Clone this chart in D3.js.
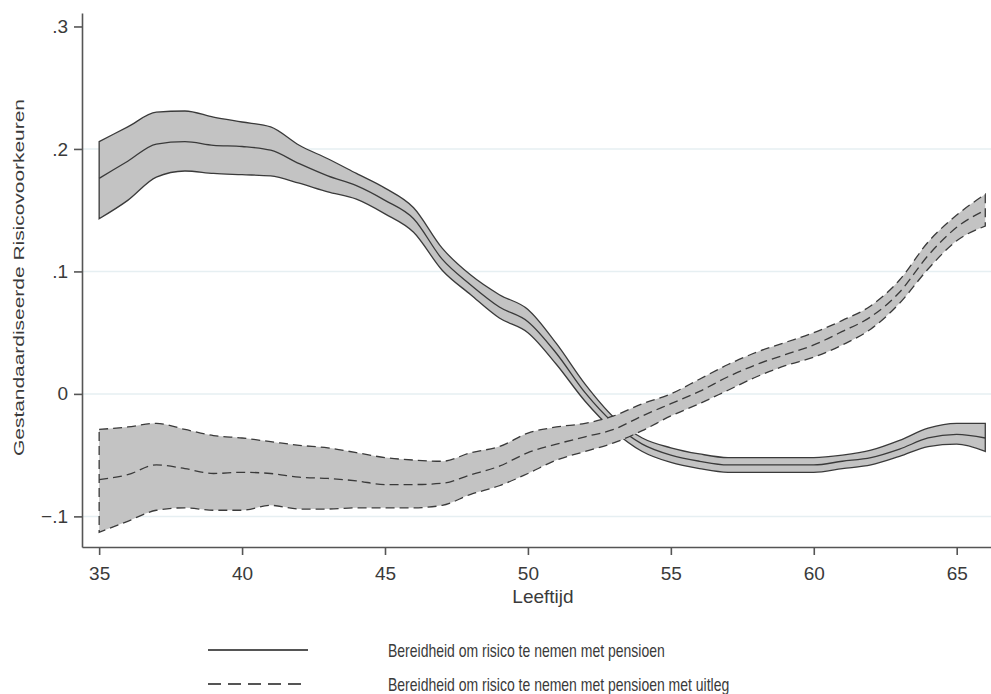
<!DOCTYPE html>
<html>
<head>
<meta charset="utf-8">
<script src="https://cdn.jsdelivr.net/npm/d3@7"></script>
<style>
  body { margin: 0; background: #fff; }
  svg { display: block; font-family: "Liberation Sans", Arial, sans-serif; }
</style>
</head>
<body>
<svg id="chart" width="991" height="694"></svg>
<script>
// leeftijd (x)
const ages = [35, 36, 37, 38, 39, 40, 41, 42, 43, 44, 45, 46, 47, 48, 49, 50,
              51, 52, 53, 54, 55, 56, 57, 58, 59, 60, 61, 62, 63, 64, 65, 66];

// Bereidheid om risico te nemen met pensioen
const pensMean  = [.176, .190, .204, .206, .203, .202, .199, .188, .178, .170, .158, .143, .110, .089, .071, .059,
                   .033, .001, -.024, -.041, -.050, -.055, -.058, -.058, -.058, -.058, -.055, -.052, -.045, -.036, -.033, -.036];
const pensLower = [.143, .158, .177, .182, .180, .179, .178, .172, .165, .159, .147, .132, .101, .081, .062, .050,
                   .024, -.006, -.030, -.047, -.056, -.061, -.064, -.064, -.064, -.064, -.061, -.058, -.051, -.043, -.041, -.047];
const pensUpper = [.206, .218, .230, .231, .226, .222, .218, .203, .192, .180, .168, .152, .119, .097, .081, .069,
                   .041, .008, -.019, -.036, -.044, -.049, -.052, -.052, -.052, -.052, -.050, -.046, -.038, -.028, -.024, -.024];

// Bereidheid om risico te nemen met pensioen met uitleg
const uitlMean  = [-.070, -.066, -.058, -.061, -.065, -.064, -.065, -.068, -.069, -.071, -.074, -.074, -.073, -.066, -.059, -.048,
                   -.041, -.035, -.029, -.018, -.008, .002, .014, .024, .032, .040, .051, .063, .083, .113, .136, .150];
const uitlLower = [-.113, -.104, -.095, -.093, -.095, -.095, -.091, -.094, -.094, -.093, -.093, -.093, -.091, -.082, -.075, -.065,
                   -.054, -.047, -.040, -.030, -.018, -.008, .003, .014, .023, .030, .040, .053, .074, .102, .125, .137];
const uitlUpper = [-.029, -.027, -.024, -.029, -.034, -.036, -.039, -.042, -.044, -.048, -.052, -.054, -.055, -.048, -.043, -.032,
                   -.027, -.024, -.018, -.008, .000, .012, .024, .034, .042, .050, .060, .072, .093, .124, .146, .163];

const yTicks = [-.1, 0, .1, .2, .3];
const yGrid = [-.1, 0, .1, .2];
const xTicks = [35, 40, 45, 50, 55, 60, 65];

const legendLabels = ["Bereidheid om risico te nemen met pensioen",
                      "Bereidheid om risico te nemen met pensioen met uitleg"];

const svg = d3.select('#chart');
const plotL = 82, plotR = 991, plotT = 13, plotB = 547;

const x = d3.scaleLinear().domain([34.4, 66.2]).range([plotL, plotR]);
const y = d3.scaleLinear().domain([-0.125, 0.311]).range([plotB, plotT]);

const ink = '#3a3a3a';
const textCol = '#3a3a3a';

// grid
svg.append('g').selectAll('line')
    .data(yGrid)
    .enter().append('line')
    .attr('x1', plotL).attr('x2', plotR)
    .attr('y1', d => y(d)).attr('y2', d => y(d))
    .attr('stroke', '#e6eff2')
    .attr('stroke-width', 1.5);

const series = [
    {mean: pensMean, lower: pensLower, upper: pensUpper, dash: null},
    {mean: uitlMean, lower: uitlLower, upper: uitlUpper, dash: '9,5'}
];

const area = d3.area()
    .x(d => x(d.age))
    .y0(d => y(d.lo))
    .y1(d => y(d.hi))
    .curve(d3.curveMonotoneX);

const line = d3.line()
    .x(d => x(d.age))
    .y(d => y(d.m))
    .curve(d3.curveMonotoneX);

series.forEach(s => {
    const rows = ages.map((a, i) => ({age: a, m: s.mean[i], lo: s.lower[i], hi: s.upper[i]}));
    const g = svg.append('g');
    g.append('path')
        .attr('d', area(rows))
        .attr('fill', '#c3c3c3')
        .attr('stroke', ink)
        .attr('stroke-width', 1.3)
        .attr('stroke-dasharray', s.dash);
    g.append('path')
        .attr('d', line(rows))
        .attr('fill', 'none')
        .attr('stroke', ink)
        .attr('stroke-width', 1.3)
        .attr('stroke-dasharray', s.dash);
});

// axes
const fmt = d => d === 0 ? '0' : d3.format('.1f')(d).replace('0.', '.');

const yAxis = svg.append('g')
    .attr('transform', `translate(${plotL},0)`)
    .call(d3.axisLeft(y).tickValues(yTicks).tickFormat(fmt).tickSize(8).tickPadding(6).tickSizeOuter(0));

const xAxis = svg.append('g')
    .attr('transform', `translate(0,${plotB})`)
    .call(d3.axisBottom(x).tickValues(xTicks).tickFormat(d3.format('d')).tickSize(8).tickPadding(12).tickSizeOuter(0));

[yAxis, xAxis].forEach(a => {
    a.select('.domain').attr('stroke', '#555').attr('stroke-width', 1.6);
    a.selectAll('.tick line').attr('stroke', '#555').attr('stroke-width', 1.6);
    a.selectAll('.tick text')
        .attr('fill', textCol)
        .style('font-size', '19px')
        .style('font-family', '"Liberation Sans", Arial, sans-serif');
});

// axis titles
svg.append('text')
    .attr('x', 543).attr('y', 603)
    .attr('text-anchor', 'middle')
    .attr('fill', textCol)
    .style('font-size', '19px')
    .text('Leeftijd');

svg.append('text')
    .attr('transform', 'translate(24,277.5) scale(1,1.35) rotate(-90)')
    .attr('text-anchor', 'middle')
    .attr('fill', textCol)
    .style('font-size', '15.5px')
    .text('Gestandaardiseerde Risicovoorkeuren');

// legend
const legend = svg.append('g');
const legY = [650, 684];
const legDash = [null, '13,7'];

legendLabels.forEach((lab, i) => {
    legend.append('line')
        .attr('x1', 208).attr('x2', 308)
        .attr('y1', legY[i]).attr('y2', legY[i])
        .attr('stroke', '#555')
        .attr('stroke-width', 2)
        .attr('stroke-dasharray', legDash[i]);
    legend.append('text')
        .attr('transform', `translate(388,${legY[i] + 7}) scale(1,1.3)`)
        .attr('fill', textCol)
        .style('font-size', '14px')
        .text(lab);
});
</script>
</body>
</html>
